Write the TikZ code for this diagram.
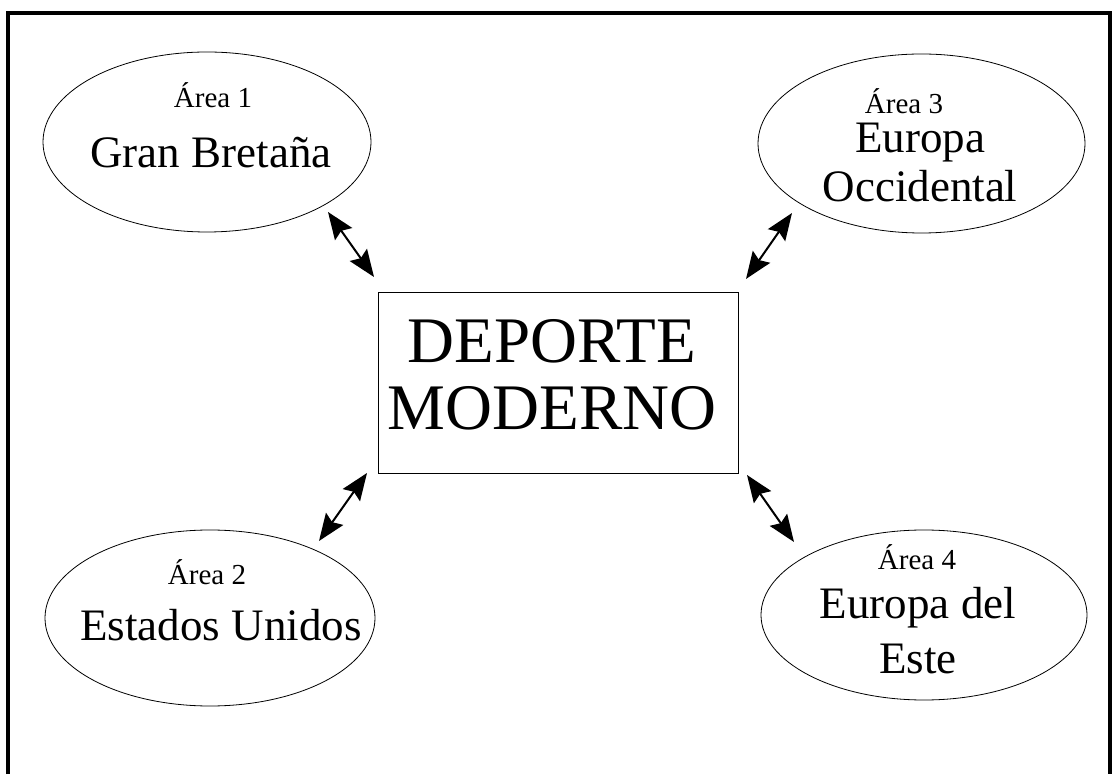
\documentclass[tikz,border=0pt]{standalone}
\usepackage{fontspec}
\setmainfont{Liberation Serif}
\usetikzlibrary{shapes.geometric,arrows.meta}

\begin{document}
\begin{tikzpicture}[x=1pt, y=1pt,
  area/.style={draw, ellipse, line width=0.8pt, inner sep=0pt},
  small/.style={anchor=base, font=\fontsize{29}{32}\selectfont},
  big/.style={anchor=base, align=center, font=\fontsize{45}{52}\selectfont},
  link/.style={line width=2pt, {Stealth[length=27pt,width=21pt,inset=4pt]}-{Stealth[length=27pt,width=21pt,inset=4pt]}}]
  \useasboundingbox (0,0) rectangle (1116,774);

  % frame
  \draw[line width=4pt] (8,0) -- (8,761) -- (1110,761) -- (1110,0);

  % centre
  \node[draw, line width=0.8pt, inner sep=0pt, minimum width=360pt, minimum height=181pt] (core) at (558,391.5) {};
  \node[anchor=base, align=center, font=\fontsize{65}{67}\selectfont] (core-t) at (552,344) {DEPORTE\\MODERNO};

  % areas
  \node[area, minimum width=328pt, minimum height=180pt] (gb) at (207,632) {};
  \node[area, minimum width=327pt, minimum height=179pt] (we) at (921.5,630.5) {};
  \node[area, minimum width=330pt, minimum height=176pt] (us) at (210,156) {};
  \node[area, minimum width=326pt, minimum height=170pt] (ee) at (924,159) {};

  \node[small] (gb-a) at (213,666) {Área 1};
  \node[big] (gb-n) at (211,606) {Gran Bretaña};
  \node[small] (we-a) at (904,660) {Área 3};
  \node[big] (we-n) at (920,572) {Europa\\[-3pt]Occidental};
  \node[small] (us-a) at (207,189) {Área 2};
  \node[big] (us-n) at (221,134) {Estados Unidos};
  \node[small] (ee-a) at (917,204) {Área 4};
  \node[big] (ee-n) at (918,101) {Europa del\\[3pt]Este};

  % arrow ends
  \coordinate (gb-1) at (328,562);
  \coordinate (gb-2) at (374,497);
  \coordinate (we-1) at (792,561);
  \coordinate (we-2) at (746,495);
  \coordinate (us-1) at (319,233);
  \coordinate (us-2) at (367,301);
  \coordinate (ee-1) at (794,232);
  \coordinate (ee-2) at (747,299);

  \draw[link] (gb-1) -- (gb-2);
  \draw[link] (we-1) -- (we-2);
  \draw[link] (us-1) -- (us-2);
  \draw[link] (ee-1) -- (ee-2);
\end{tikzpicture}
\end{document}
